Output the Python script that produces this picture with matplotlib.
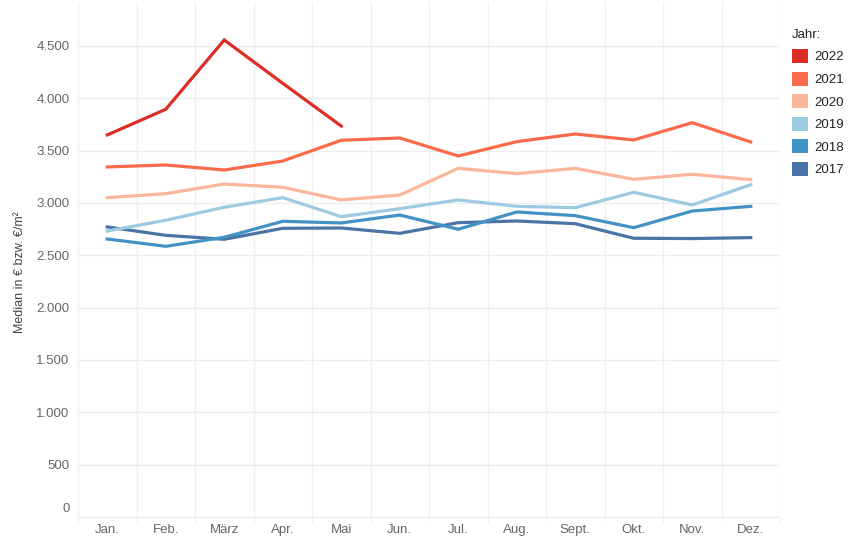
import matplotlib.pyplot as plt
from matplotlib.patches import Patch
from matplotlib import transforms
import numpy as np

plt.rcParams['font.family'] = ['Liberation Sans', 'DejaVu Sans']

# Monate
monate = ['Jan.', 'Feb.', 'März', 'Apr.', 'Mai', 'Jun.', 'Jul.', 'Aug.', 'Sept.', 'Okt.', 'Nov.', 'Dez.']

# Median je Monat
j2022 = [3650, 3895, 4557, 4143, 3735]
j2021 = [3344, 3363, 3315, 3401, 3599, 3621, 3449, 3586, 3659, 3602, 3767, 3583]
j2020 = [3051, 3089, 3181, 3150, 3029, 3076, 3331, 3280, 3331, 3226, 3274, 3223]
j2019 = [2732, 2835, 2959, 3051, 2869, 2946, 3029, 2968, 2955, 3102, 2981, 3175]
j2018 = [2656, 2586, 2672, 2825, 2809, 2885, 2749, 2914, 2879, 2764, 2923, 2968]
j2017 = [2771, 2691, 2653, 2758, 2761, 2710, 2812, 2828, 2802, 2663, 2660, 2669]

jahre = ['2022', '2021', '2020', '2019', '2018', '2017']
werte = [j2022, j2021, j2020, j2019, j2018, j2017]
farben = ['#de2d26', '#fb6a4a', '#fcb69c', '#9ecae1', '#4292c6', '#4a74a5']

fig = plt.figure(figsize=(8.56, 5.55), dpi=100)
ax = fig.add_axes([78 / 856, 1 - 517 / 555, 702 / 856, 515 / 555])

# 2017 zuerst zeichnen, 2022 oben
for jahr, w, f in reversed(list(zip(jahre, werte, farben))):
    ax.plot(np.arange(len(w)), w, color=f, lw=2.3, solid_joinstyle='miter', zorder=3)

ax.set_xlim(-0.5, 11.5)
ax.set_ylim(0, 4920)
ax.set_xticks(np.arange(12))
ax.set_xticklabels(monate)
ax.set_xticks(np.arange(-0.5, 12, 1), minor=True)
ax.set_yticks(np.arange(0, 5000, 500))
ax.set_yticklabels([f'{v:,}'.replace(',', '.') for v in range(0, 5000, 500)])

ax.grid(False)
ax.grid(which='minor', axis='x', color='#f0f0f0', lw=1)
ax.grid(which='major', axis='y', color='#eeeeee', lw=1)
ax.tick_params(which='both', length=0, colors='#666666', labelsize=9.5)
ax.tick_params(axis='x', which='minor', length=4, color='#eeeeee')
ax.tick_params(axis='x', pad=5)
ax.tick_params(axis='y', pad=6)
for s in ['top', 'right', 'left']:
    ax.spines[s].set_visible(False)
ax.spines['bottom'].set_color('#eeeeee')

# "0" etwas hoeher wie im Original
nulllabel = ax.get_yticklabels()[0]
nulllabel.set_transform(nulllabel.get_transform() + transforms.ScaledTranslation(0, 10 / 100, fig.dpi_scale_trans))

fig.text(20 / 856, 1 - 272 / 555, 'Median in € bzw. €/m²', rotation=90, ha='center', va='center',
         fontsize=9, color='#444444')

handles = [Patch(facecolor=f, edgecolor='none') for f in farben]
leg = fig.legend(handles, jahre, title='Jahr:', loc='upper left', bbox_to_anchor=(780 / 856, 1 - 17 / 555),
                 frameon=False, fontsize=9.5, title_fontsize=9.5, handlelength=1.25, handleheight=1.25,
                 handletextpad=0.45, labelspacing=0.62, alignment='left')
leg.get_title().set_color('#222222')
for t in leg.get_texts():
    t.set_color('#222222')

fig.savefig('out.png', dpi=100)
